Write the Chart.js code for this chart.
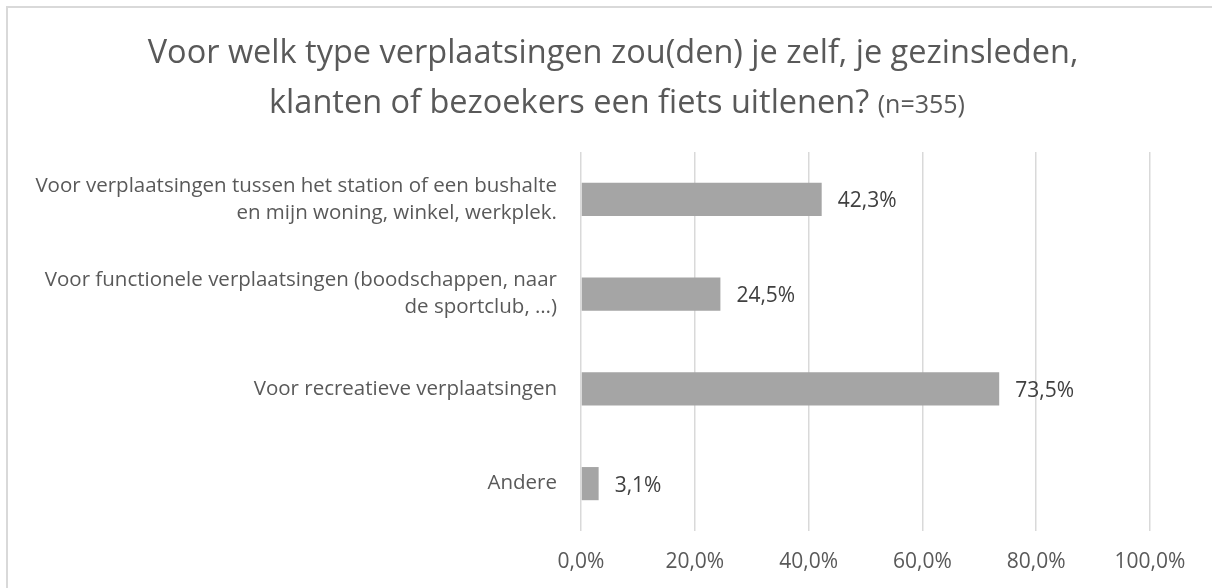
<!DOCTYPE html>
<html>
<head>
<meta charset="utf-8">
<script src="https://cdn.jsdelivr.net/npm/chart.js@4"></script>
<style>
  html, body { margin: 0; padding: 0; background: #fff; }
  #wrap { width: 1212px; height: 588px; position: relative; }
</style>
</head>
<body>
<div id="wrap"><canvas id="c" width="1212" height="588"></canvas></div>
<script>
const titleLine1 = "Voor welk type verplaatsingen zou(den) je zelf, je gezinsleden,";
const titleLine2 = "klanten of bezoekers een fiets uitlenen?";
const titleSuffix = "(n=355)";
const categories = [
  ["Voor verplaatsingen tussen het station of een bushalte", "en mijn woning, winkel, werkplek."],
  ["Voor functionele verplaatsingen (boodschappen, naar", "de sportclub, \u2026)"],
  "Voor recreatieve verplaatsingen",
  "Andere"
];
const values = [42.3, 24.5, 73.5, 3.1];
const xTicks = [0, 20, 40, 60, 80, 100];

const FONT = "'Open Sans', sans-serif";
const fmt = v => v.toFixed(1).replace('.', ',') + '%';

const framePlugin = {
  id: 'frame',
  beforeDraw(chart) {
    const ctx = chart.ctx;
    ctx.save();
    ctx.fillStyle = '#fff';
    ctx.fillRect(0, 0, chart.width, chart.height);
    ctx.strokeStyle = '#D9D9D9';
    ctx.lineWidth = 2;
    ctx.beginPath();
    ctx.moveTo(7, chart.height + 5);
    ctx.lineTo(7, 7);
    ctx.lineTo(chart.width + 5, 7);
    ctx.stroke();
    ctx.restore();
  },
  afterDraw(chart) {
    const ctx = chart.ctx;
    ctx.save();
    ctx.fillStyle = '#595959';
    ctx.textBaseline = 'alphabetic';
    const cx = 613;
    ctx.font = "32.5px " + FONT;
    const w1 = ctx.measureText(titleLine1).width;
    ctx.fillText(titleLine1, cx - w1 / 2, 63);
    const w2a = ctx.measureText(titleLine2 + " ").width;
    ctx.font = "25px " + FONT;
    const w2b = ctx.measureText(titleSuffix).width;
    const start = cx + 4 - (w2a + w2b) / 2;
    ctx.font = "32.5px " + FONT;
    ctx.fillText(titleLine2, start, 113);
    ctx.font = "25px " + FONT;
    ctx.fillText(titleSuffix, start + w2a, 113);
    // data labels
    const meta = chart.getDatasetMeta(0);
    ctx.font = "21px " + FONT;
    ctx.fillStyle = '#404040';
    ctx.textBaseline = 'middle';
    meta.data.forEach((bar, i) => {
      ctx.fillText(fmt(values[i]), bar.x + 16, bar.y + 2);
    });
    ctx.restore();
  }
};

new Chart(document.getElementById('c'), {
  type: 'bar',
  data: {
    labels: categories,
    datasets: [{
      data: values,
      backgroundColor: '#A5A5A5',
      borderWidth: 0,
      categoryPercentage: 1,
      barPercentage: 0.35
    }]
  },
  options: {
    indexAxis: 'y',
    responsive: false,
    animation: false,
    events: [],
    layout: { padding: { top: 152, right: 62, left: 0, bottom: 0 } },
    plugins: { legend: { display: false }, title: { display: false }, tooltip: { enabled: false } },
    scales: {
      x: {
        min: 0, max: 100,
        afterBuildTicks(scale) { scale.ticks = xTicks.map(v => ({ value: v })); },
        afterFit(scale) { scale.height = 57; },
        grid: { color: '#D9D9D9', lineWidth: 1.5, drawTicks: false },
        border: { display: false },
        ticks: { font: { family: FONT, size: 21 }, color: '#595959', padding: 18, callback: v => fmt(v) }
      },
      y: {
        afterFit(scale) { scale.width = 581; },
        grid: { display: false, drawTicks: false },
        border: { display: false },
        ticks: { font: { family: FONT, size: 20.5, lineHeight: 1.32 }, color: '#595959', padding: 24 }
      }
    }
  },
  plugins: [framePlugin]
});
</script>
</body>
</html>
